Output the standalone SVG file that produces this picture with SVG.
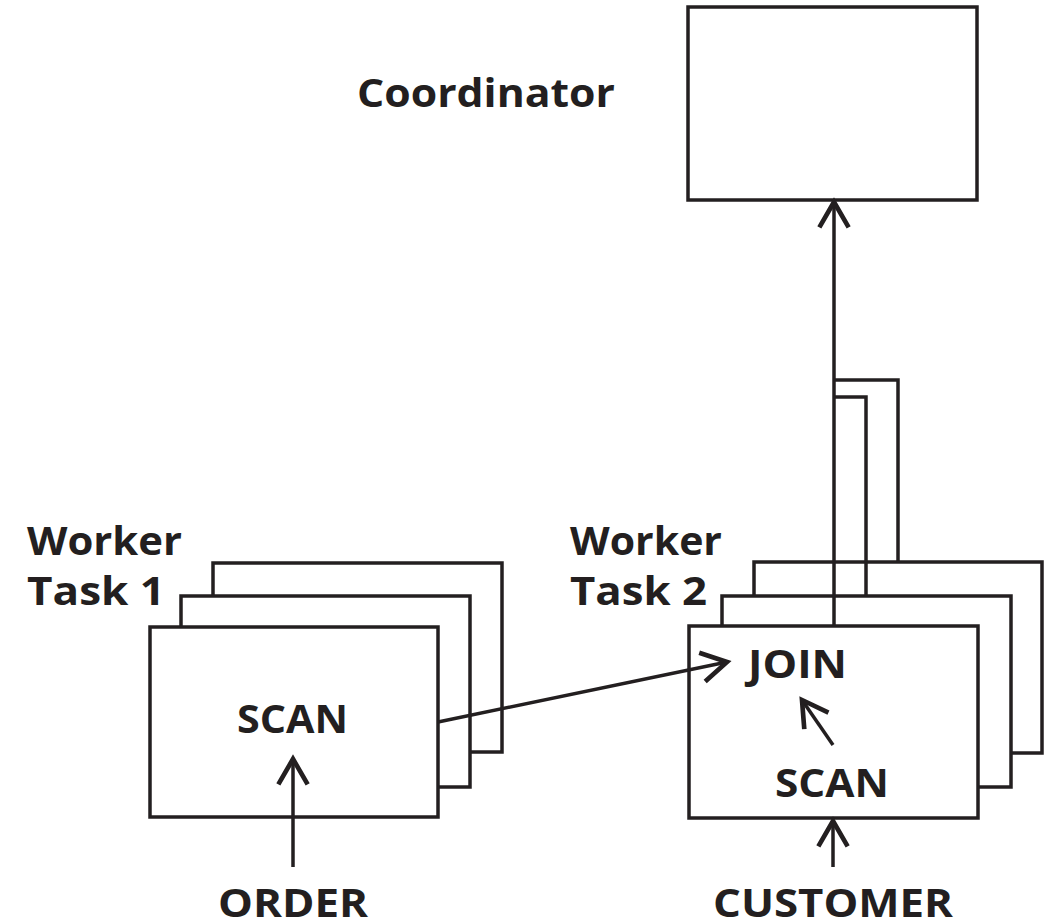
<svg xmlns="http://www.w3.org/2000/svg" width="1051" height="923" viewBox="0 0 1051 923">
<style>
.box{fill:#fff;stroke:#231f20;stroke-width:3.5}
.ln{fill:none;stroke:#231f20;stroke-width:3.5}
.t{font-family:"Open Sans","Liberation Sans",sans-serif;font-weight:bold;font-size:40px;fill:#231f20}
</style>
<defs>
<marker id="ah" markerUnits="userSpaceOnUse" markerWidth="40" markerHeight="40" viewBox="-25 -15 30 30" refX="0" refY="0" orient="auto">
<path d="M-19,-11 L0,0 L-19,11" fill="none" stroke="#231f20" stroke-width="3.5"/>
</marker>
</defs>
<rect width="1051" height="923" fill="#fff"/>
<g id="coordinator">
<rect class="box" x="688" y="7" width="289" height="193"/>
<text class="t" x="357" y="107" textLength="258" lengthAdjust="spacingAndGlyphs">Coordinator</text>
</g>
<g id="worker1">
<rect class="box" x="213" y="563" width="289" height="189"/>
<rect class="box" x="181" y="596" width="289" height="191"/>
<rect class="box" x="150" y="627" width="288" height="190"/>
<text class="t" x="27" y="555" textLength="155" lengthAdjust="spacingAndGlyphs">Worker</text>
<text class="t" x="27" y="605" textLength="138" lengthAdjust="spacingAndGlyphs">Task 1</text>
<text class="t" x="237" y="733" textLength="111" lengthAdjust="spacingAndGlyphs">SCAN</text>
</g>
<g id="worker2">
<rect class="box" x="754" y="562" width="288" height="191"/>
<rect class="box" x="722" y="596" width="289" height="191"/>
<rect class="box" x="689" y="626" width="289" height="192"/>
<text class="t" x="570" y="555" textLength="152" lengthAdjust="spacingAndGlyphs">Worker</text>
<text class="t" x="570" y="605" textLength="137" lengthAdjust="spacingAndGlyphs">Task 2</text>
<text class="t" x="748" y="678" textLength="99" lengthAdjust="spacingAndGlyphs">JOIN</text>
<text class="t" x="775" y="797" textLength="114" lengthAdjust="spacingAndGlyphs">SCAN</text>
</g>
<g id="order">
<text class="t" x="218" y="917" textLength="150" lengthAdjust="spacingAndGlyphs">ORDER</text>
</g>
<g id="customer">
<text class="t" x="713" y="917" textLength="240" lengthAdjust="spacingAndGlyphs">CUSTOMER</text>
</g>
<g id="connectors">
<line class="ln" x1="293" y1="867" x2="293" y2="759" marker-end="url(#ah)"/>
<line class="ln" x1="833" y1="867" x2="833" y2="821" marker-end="url(#ah)"/>
<line class="ln" x1="438" y1="722" x2="727" y2="662" marker-end="url(#ah)"/>
<line class="ln" x1="833" y1="745" x2="802" y2="700" marker-end="url(#ah)"/>
<line class="ln" x1="834" y1="626" x2="834" y2="202" marker-end="url(#ah)"/>
<polyline class="ln" points="834,380 898,380 898,562"/>
<polyline class="ln" points="834,397 866,397 866,596"/>
</g>
</svg>
